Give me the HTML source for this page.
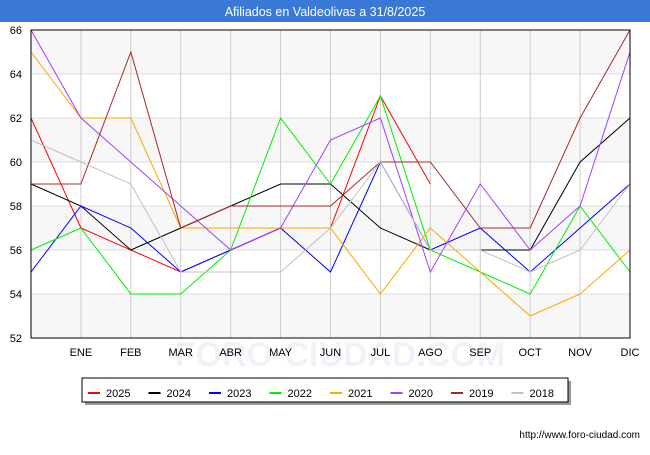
<!DOCTYPE html>
<html><head><meta charset="utf-8"><style>
body{margin:0;background:#fff;font-family:"Liberation Sans",sans-serif}
</style></head><body>
<svg id="c" width="650" height="450" xmlns="http://www.w3.org/2000/svg" font-family="Liberation Sans, sans-serif">
<rect x="0" y="0" width="650" height="22" fill="#3a78d8"/>
<text x="325" y="16" text-anchor="middle" fill="#fff" font-size="12.5">Afiliados en Valdeolivas a 31/8/2025</text>
<g id="plot"></g>
<g id="legend"></g>
<text x="640" y="438" text-anchor="end" font-size="10" fill="#000">http://www.foro-ciudad.com</text>
</svg>
<script>
const months=["","ENE","FEB","MAR","ABR","MAY","JUN","JUL","AGO","SEP","OCT","NOV","DIC"];
const yTicks=[52,54,56,58,60,62,64,66];
const seriesNames=["2025","2024","2023","2022","2021","2020","2019","2018"];
const seriesColors=["#ff0000","#000000","#0000ff","#00ee00","#ffa500","#a040ff","#a52a2a","#c0c0c0"];
const s2025=[62,57,56,55,56,57,57,63,59];
const s2024=[59,58,56,57,58,59,59,57,56,56,56,60,62];
const s2023=[55,58,57,55,56,57,55,60,56,57,55,57,59];
const s2022=[56,57,54,54,56,62,59,63,56,55,54,58,55];
const s2021=[65,62,62,57,57,57,57,54,57,55,53,54,56];
const s2020=[66,62,60,58,56,57,61,62,55,59,56,58,65];
const s2019=[59,59,65,57,58,58,58,60,60,57,57,62,66];
const s2018=[61,60,59,55,55,55,57,60,56,56,55,56,59];
const allSeries=[s2025,s2024,s2023,s2022,s2021,s2020,s2019,s2018];
const X0=31,X1=630,Y0=30,Y1=338;
const xs=i=>X0+i*(X1-X0)/12;
const ys=v=>Y1-(v-52)*(Y1-Y0)/14;
const NS="http://www.w3.org/2000/svg";
const plot=document.getElementById('plot');
function mk(t,a,p){const e=document.createElementNS(NS,t);for(const k in a)e.setAttribute(k,a[k]);(p||plot).appendChild(e);return e;}
let bg=mk('rect',{x:X0,y:Y0,width:X1-X0,height:Y1-Y0,fill:'#fff'});


for(let k=0;k<yTicks.length-1;k+=2){
 let b=mk('rect',{x:X0,y:ys(yTicks[k+1]),width:X1-X0,height:ys(yTicks[k])-ys(yTicks[k+1]),fill:'#f7f7f7'});
 
 
}
let wm=mk('text',{x:340,y:366,'text-anchor':'middle','font-size':34,fill:'#e6eaf4','fill-opacity':0.6,'font-weight':'bold'});
wm.textContent='FORO-CIUDAD.COM';


yTicks.forEach(v=>{
 let l=mk('line',{x1:X0,x2:X1,y1:ys(v),y2:ys(v),stroke:'#ddd'});
 
 
 let t=mk('text',{x:22,y:ys(v)+4,'text-anchor':'end','font-size':11});
 t.textContent=v;
 
 
});
months.forEach((m,i)=>{
 if(i>0){let l=mk('line',{x1:xs(i),x2:xs(i),y1:Y0,y2:Y1,stroke:'#ccc'});
 
 }
 if(m){let t=mk('text',{x:xs(i),y:356,'text-anchor':'middle','font-size':11});
 t.textContent=m;
 
 }
});
for(let s=0;s<allSeries.length;s++){
 const d=allSeries[s];
 let p=mk('polyline',{points:d.map((v,i)=>xs(i)+','+ys(v)).join(' '),fill:'none',stroke:seriesColors[s],'stroke-width':1});
 
 
}
let fr=mk('rect',{x:X0,y:Y0,width:X1-X0,height:Y1-Y0,fill:'none',stroke:'#000'});


const lg=document.getElementById('legend');
let sh=mk('rect',{x:85,y:381,width:486,height:24,fill:'#999'},lg);


let lb=mk('rect',{x:82,y:378,width:486,height:24,fill:'#fff',stroke:'#000'},lg);


seriesNames.forEach((n,i)=>{
 const x=88+i*60.5;
 let g=mk('g',{},lg);
 
 
 mk('line',{x1:x,x2:x+12,y1:393,y2:393,stroke:seriesColors[i],'stroke-width':2},g);
 let t=mk('text',{x:x+18,y:397,'font-size':11},g);
 t.textContent=n;
});
</script>
</body></html>
